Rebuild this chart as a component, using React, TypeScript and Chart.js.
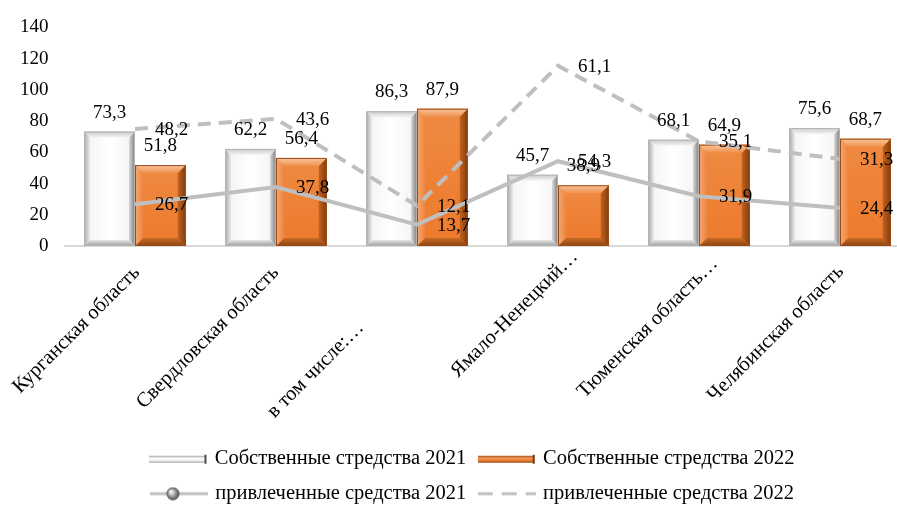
import React, { useEffect, useRef } from 'react';
import { Chart, registerables } from 'chart.js';

Chart.register(...registerables);

const FONT = "'Liberation Serif', 'Times New Roman', serif";

const categories = [
  'Курганская область',
  'Свердловская область',
  'в том числе:…',
  'Ямало-Ненецкий…',
  'Тюменская область…',
  'Челябинская область',
];
const own2021 = [73.3, 62.2, 86.3, 45.7, 68.1, 75.6];
const own2022 = [51.8, 56.4, 87.9, 38.9, 64.9, 68.7];
const attracted2021 = [26.7, 37.8, 13.7, 54.3, 31.9, 24.4];
const attracted2022 = [48.2, 43.6, 12.1, 61.1, 35.1, 31.3];
const seriesNames = [
  'Собственные стредства 2021',
  'Собственные стредства 2022',
  'привлеченные средства 2021',
  'привлеченные средства 2022',
];
const yMin = 0;
const yMax = 140;
const yStep = 20;

const fmt = (v: number) => v.toFixed(1).replace('.', ',');

// per-label nudges of the rotated category text (layout only)
const LABEL_NUDGE: number[][] = [
  [-7, 3],
  [-9, 3],
  [-65, 58],
  [8, -13],
  [7, -6],
  [-8, 2],
];

function makeIcon(kind: string): HTMLCanvasElement {
  const c = document.createElement('canvas');
  c.width = 58;
  c.height = 14;
  const g = c.getContext('2d')!;
  if (kind === 'white' || kind === 'orange') {
    const top = 4, h = 7;
    const grad = g.createLinearGradient(0, top, 0, top + h);
    if (kind === 'white') {
      grad.addColorStop(0, '#a0a0a0');
      grad.addColorStop(0.35, '#ffffff');
      grad.addColorStop(0.7, '#f4f4f4');
      grad.addColorStop(1, '#9a9a9a');
    } else {
      grad.addColorStop(0, '#9a4a14');
      grad.addColorStop(0.3, '#f29a5c');
      grad.addColorStop(0.7, '#ed7d31');
      grad.addColorStop(1, '#8b4210');
    }
    g.fillStyle = grad;
    g.fillRect(0, top, 56, h);
    g.fillStyle = kind === 'white' ? '#4d4d4d' : '#7a3a0e';
    g.fillRect(55, top - 1, 2, h + 2);
  } else if (kind === 'sphere') {
    g.strokeStyle = '#bfbfbf';
    g.lineWidth = 3;
    g.beginPath();
    g.moveTo(0, 7);
    g.lineTo(58, 7);
    g.stroke();
    const rg = g.createRadialGradient(21, 5, 1, 23, 7, 6.5);
    rg.addColorStop(0, '#f0f0f0');
    rg.addColorStop(0.5, '#9a9a9a');
    rg.addColorStop(1, '#4a4a4a');
    g.fillStyle = rg;
    g.beginPath();
    g.arc(23, 7, 6.5, 0, Math.PI * 2);
    g.fill();
  } else {
    g.strokeStyle = '#bfbfbf';
    g.lineWidth = 3;
    g.setLineDash([15, 9]);
    g.beginPath();
    g.moveTo(0, 7);
    g.lineTo(58, 7);
    g.stroke();
  }
  return c;
}

function poly(ctx: CanvasRenderingContext2D, pts: number[][], fill: any) {
  ctx.beginPath();
  ctx.moveTo(pts[0][0], pts[0][1]);
  for (let i = 1; i < pts.length; i++) ctx.lineTo(pts[i][0], pts[i][1]);
  ctx.closePath();
  ctx.fillStyle = fill;
  ctx.fill();
}

const bevelPlugin = {
  id: 'bevel',
  afterDatasetDraw(chart: any, args: any) {
    const ds = chart.data.datasets[args.index];
    if (ds.type !== 'bar') return;
    const ctx: CanvasRenderingContext2D = chart.ctx;
    const isWhite = args.index === 0;
    const b = isWhite ? 6 : 8;
    ctx.save();
    args.meta.data.forEach((el: any) => {
      const p = el.getProps(['x', 'y', 'base', 'width'], true);
      const l = p.x - p.width / 2;
      const r = p.x + p.width / 2;
      const t = Math.min(p.y, p.base);
      const bo = Math.max(p.y, p.base);
      let gT, gL, gR, gB;
      if (isWhite) {
        const face = ctx.createLinearGradient(l, 0, r, 0);
        face.addColorStop(0, '#f2f2f2');
        face.addColorStop(0.5, '#ffffff');
        face.addColorStop(1, '#f3f3f3');
        ctx.fillStyle = face;
        ctx.fillRect(l, t, r - l, bo - t);
        gT = ctx.createLinearGradient(0, t, 0, t + b);
        gT.addColorStop(0, '#c8c8c8');
        gT.addColorStop(1, '#f4f4f4');
        gL = ctx.createLinearGradient(l, 0, l + b, 0);
        gL.addColorStop(0, '#a8a8a8');
        gL.addColorStop(1, '#f0f0f0');
        gR = ctx.createLinearGradient(r - b, 0, r, 0);
        gR.addColorStop(0, '#dadada');
        gR.addColorStop(1, '#7d7d7d');
        gB = ctx.createLinearGradient(0, bo - b, 0, bo);
        gB.addColorStop(0, '#e4e4e4');
        gB.addColorStop(1, '#9c9c9c');
      } else {
        const face = ctx.createLinearGradient(0, t, 0, bo);
        face.addColorStop(0, '#ef8a42');
        face.addColorStop(1, '#ec7a2c');
        ctx.fillStyle = face;
        ctx.fillRect(l, t, r - l, bo - t);
        gT = ctx.createLinearGradient(0, t, 0, t + b);
        gT.addColorStop(0, '#f9c7a0');
        gT.addColorStop(1, '#f0904e');
        gL = ctx.createLinearGradient(l, 0, l + b, 0);
        gL.addColorStop(0, '#f4a86f');
        gL.addColorStop(1, '#ee8541');
        gR = ctx.createLinearGradient(r - b, 0, r, 0);
        gR.addColorStop(0, '#c4621f');
        gR.addColorStop(1, '#7f3c0e');
        gB = ctx.createLinearGradient(0, bo - b, 0, bo);
        gB.addColorStop(0, '#c86a27');
        gB.addColorStop(1, '#8e4411');
      }
      poly(ctx, [[l, bo], [r, bo], [r - b, bo - b], [l + b, bo - b]], gB);
      poly(ctx, [[l, t], [l + b, t + b], [l + b, bo - b], [l, bo]], gL);
      poly(ctx, [[r, t], [r, bo], [r - b, bo - b], [r - b, t + b]], gR);
      poly(ctx, [[l, t], [r, t], [r - b, t + b], [l + b, t + b]], gT);
      ctx.strokeStyle = isWhite ? '#b3b3b3' : '#9a4b16';
      ctx.lineWidth = 1;
      ctx.strokeRect(l + 0.5, t + 0.5, r - l - 1, bo - t - 1);
    });
    ctx.restore();
  },
};

const labelPlugin = {
  id: 'valueLabels',
  afterDatasetsDraw(chart: any) {
    const ctx: CanvasRenderingContext2D = chart.ctx;
    ctx.save();
    ctx.font = `19px ${FONT}`;
    ctx.fillStyle = '#000';
    chart.data.datasets.forEach((ds: any, di: number) => {
      const meta = chart.getDatasetMeta(di);
      meta.data.forEach((el: any, i: number) => {
        const txt = fmt(ds.data[i]);
        if (ds.type === 'bar') {
          ctx.textAlign = 'center';
          ctx.textBaseline = 'alphabetic';
          ctx.fillText(txt, el.x, el.y - 14);
        } else {
          ctx.textAlign = 'left';
          ctx.textBaseline = 'middle';
          ctx.fillText(txt, el.x + 20, el.y + 1);
        }
      });
    });
    ctx.restore();
  },
};

const xLabelPlugin = {
  id: 'xCategoryLabels',
  afterDraw(chart: any) {
    const s = chart.scales.x;
    const ctx: CanvasRenderingContext2D = chart.ctx;
    const size = 20.5;
    const half = (size * 1.2) / 2 * Math.SQRT1_2;
    ctx.save();
    ctx.font = `${size}px ${FONT}`;
    ctx.fillStyle = '#000';
    ctx.textAlign = 'right';
    ctx.textBaseline = 'middle';
    chart.data.labels.forEach((lab: string, i: number) => {
      const nudge = LABEL_NUDGE[i] || [0, 0];
      const x = s.getPixelForTick(i) + half + nudge[0];
      const y = s.top + 12 + half + nudge[1];
      ctx.save();
      ctx.translate(x, y);
      ctx.rotate(-Math.PI / 4);
      ctx.fillText(lab, 0, 0);
      ctx.restore();
    });
    ctx.restore();
  },
};

export default function App() {
  const ref = useRef<HTMLCanvasElement | null>(null);
  useEffect(() => {
    if (!ref.current) return;
    const icons = [makeIcon('white'), makeIcon('orange'), makeIcon('sphere'), makeIcon('dash')];
    const chart = new Chart(ref.current, {
      type: 'bar',
      data: {
        labels: categories,
        datasets: [
          {
            type: 'bar',
            label: seriesNames[0],
            data: own2021,
            backgroundColor: '#ffffff',
            borderWidth: 0,
            yAxisID: 'y',
            order: 1,
            barPercentage: 1,
            categoryPercentage: 0.72,
          } as any,
          {
            type: 'bar',
            label: seriesNames[1],
            data: own2022,
            backgroundColor: '#ED7D31',
            borderWidth: 0,
            yAxisID: 'y',
            order: 1,
            barPercentage: 1,
            categoryPercentage: 0.72,
          } as any,
          {
            type: 'line',
            label: seriesNames[2],
            data: attracted2021,
            borderColor: '#bfbfbf',
            backgroundColor: '#bfbfbf',
            borderWidth: 4,
            pointRadius: 0,
            fill: false,
            tension: 0,
            yAxisID: 'y2',
            stack: 'attracted',
            order: 0,
          } as any,
          {
            type: 'line',
            label: seriesNames[3],
            data: attracted2022,
            borderColor: '#bfbfbf',
            backgroundColor: '#bfbfbf',
            borderWidth: 4,
            borderDash: [13, 8],
            pointRadius: 0,
            fill: false,
            tension: 0,
            yAxisID: 'y2',
            stack: 'attracted',
            order: 0,
          } as any,
        ],
      },
      options: {
        responsive: false,
        animation: false,
        devicePixelRatio: 1,
        layout: { padding: { left: 4, right: 0, top: 15, bottom: 0 } },
        plugins: {
          legend: {
            position: 'bottom',
            labels: {
              usePointStyle: true,
              pointStyleWidth: 52,
              padding: 14.5,
              color: '#000',
              font: { family: FONT, size: 20.5 },
              generateLabels: (ch: any) =>
                ch.data.datasets.map((ds: any, i: number) => ({
                  text: ds.label,
                  pointStyle: icons[i],
                  datasetIndex: i,
                  hidden: false,
                  fillStyle: '#fff',
                  strokeStyle: '#fff',
                  lineWidth: 0,
                  fontColor: '#000',
                })),
            },
          },
          tooltip: { enabled: false },
        },
        scales: {
          x: {
            grid: { display: false },
            border: { display: true, color: '#d9d9d9', width: 2 },
            ticks: { display: false },
            afterFit: (s: any) => {
              s.height = 188;
              s.paddingLeft = 0;
              s.paddingRight = 0;
            },
          },
          y: {
            min: yMin,
            max: yMax,
            grid: { display: false, drawTicks: false },
            border: { display: false },
            ticks: {
              stepSize: yStep,
              color: '#000',
              font: { family: FONT, size: 19 },
              padding: 16,
            },
          },
          y2: {
            position: 'right',
            min: yMin,
            max: yMax,
            stacked: true,
            grid: { display: false, drawTicks: false },
            border: { display: false },
            ticks: { display: false },
            afterFit: (s: any) => {
              s.width = 32.5;
            },
          },
        },
      } as any,
      plugins: [bevelPlugin, labelPlugin, xLabelPlugin],
    });
    return () => chart.destroy();
  }, []);
  return (
    <div
      style={{
        position: 'fixed',
        left: 0,
        top: 0,
        width: 897,
        height: 505,
        overflow: 'hidden',
        background: '#fff',
      }}
    >
      <canvas ref={ref} width={943} height={514} style={{ display: 'block', width: 943, height: 514 }} />
    </div>
  );
}
